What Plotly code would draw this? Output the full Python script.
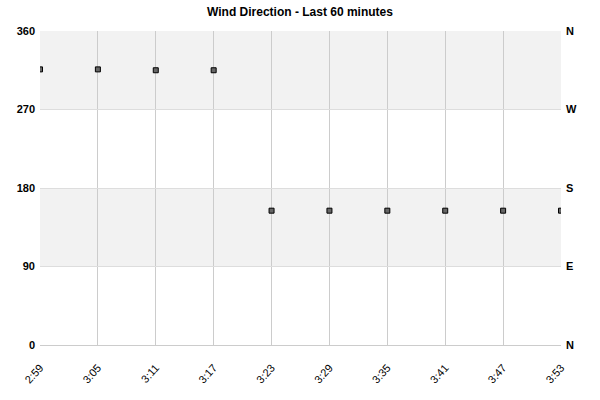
import plotly.graph_objects as go

times = ["2:59", "3:05", "3:11", "3:17", "3:23", "3:29", "3:35", "3:41", "3:47", "3:53"]
direction = [316, 316, 315, 315, 154, 154, 154, 154, 154, 154]
deg_ticks = [0, 90, 180, 270, 360]
compass_labels = ["N", "E", "S", "W", "N"]
bands = [(90, 180), (270, 360)]

fig = go.Figure()
fig.add_trace(go.Scatter(
    x=times, y=direction, mode="markers",
    marker=dict(symbol="square", size=5, color="#666666",
                line=dict(color="#000000", width=1)),
    hoverinfo="x+y", showlegend=False,
))
# twin on the right axis, only there to carry the compass labels
fig.add_trace(go.Scatter(
    x=times, y=direction, mode="markers", yaxis="y2",
    marker=dict(opacity=0), hoverinfo="skip", showlegend=False,
))

for lo, hi in bands:
    fig.add_shape(type="rect", xref="paper", yref="y", x0=0, x1=1, y0=lo, y1=hi,
                  fillcolor="#f2f2f2", line_width=0, layer="below")

fig.update_layout(
    width=600, height=400,
    margin=dict(l=40, r=39, t=31, b=55, autoexpand=False),
    paper_bgcolor="white", plot_bgcolor="white",
    font=dict(family="Liberation Sans, Arial", size=11, color="#000000"),
    title=dict(text="<b>Wind Direction - Last 60 minutes</b>", x=0.5, xanchor="center",
               yref="container", y=1, yanchor="top", pad=dict(t=8),
               font=dict(size=12)),
    xaxis=dict(
        type="category", range=[0, len(times) - 1], automargin=False,
        showgrid=True, gridcolor="#cccccc", gridwidth=1,
        tickangle=-48, tickfont=dict(size=11), ticklabelstandoff=11,
        showline=True, linecolor="#cccccc", zeroline=False, ticks="",
    ),
    yaxis=dict(
        range=[0, 360], tickvals=deg_ticks, automargin=False,
        tickfont=dict(size=11, weight="bold"), ticklabelstandoff=4,
        showgrid=True, gridcolor="#dddddd", zeroline=False,
        showline=False, ticks="",
    ),
    yaxis2=dict(
        range=[0, 360], overlaying="y", side="right", automargin=False,
        tickvals=deg_ticks, ticktext=compass_labels,
        tickfont=dict(size=11, weight="bold"), ticklabelstandoff=4,
        showgrid=False, zeroline=False, showline=False, ticks="",
    ),
)

# the page's default body margin shifts the chart; drop it
fig.write_html("out.html", config={"displayModeBar": False},
               post_script="document.body.style.margin='0';")
